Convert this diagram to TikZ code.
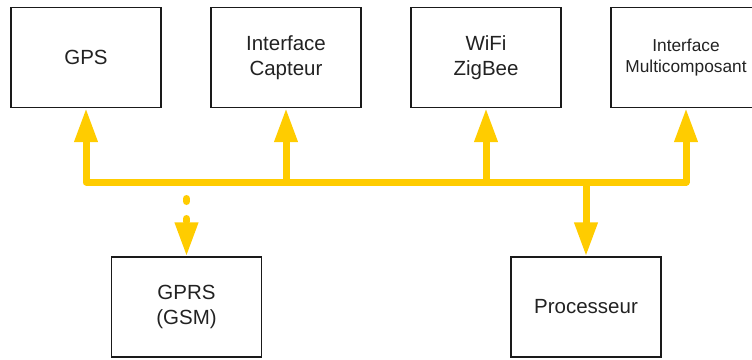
\documentclass[tikz,border=0pt]{standalone}
\usepackage{fontspec}
\setmainfont{Liberation Sans}
\usetikzlibrary{arrows.meta}
\definecolor{busyellow}{HTML}{FFCC00}
\definecolor{boxline}{HTML}{1A1A1A}
\definecolor{txt}{HTML}{222222}
\tikzset{
  blockbox/.style={draw=boxline, line width=1.4pt, minimum width=150pt, minimum height=100pt,
    align=center, text=txt, font=\fontsize{20.5}{25.5}\selectfont, inner sep=0pt},
  smalltext/.style={font=\fontsize{17.3}{21}\selectfont},
  busline/.style={draw=busyellow, line width=7pt, line join=round},
  bigtip/.style={-{Triangle[width=22pt,length=34pt]}},
  dashbus/.style={draw=busyellow, line width=7pt, line cap=round, dash pattern=on 3pt off 17pt}
}
\begin{document}
\begin{tikzpicture}[x=1pt,y=-1pt]
\useasboundingbox (0,0) rectangle (752,359);
\clip (0,0) rectangle (752,359);
\node[blockbox] (gps) at (86,57.5) {GPS};
\node[blockbox] (capt) at (286,57.5) {Interface\\Capteur};
\node[blockbox] (wifi) at (486,57.5) {WiFi\\ZigBee};
\node[blockbox,smalltext] (multi) at (686,57.5) {Interface\\Multicomposant};
\node[blockbox] (gprs) at (186.5,307) {GPRS\\(GSM)};
\node[blockbox] (proc) at (586,307) {Processeur};
\coordinate (bus) at (0,182);
\coordinate (dstart) at (186.5,198.5);
% main bus with end arrows
\draw[busline,{Triangle[width=22pt,length=34pt]}-{Triangle[width=22pt,length=34pt]}]
  (gps.south) -- (gps.south |- bus) -- (multi.south |- bus) -- (multi.south);
\draw[busline,bigtip] (capt.south |- bus) -- (capt.south);
\draw[busline,bigtip] (wifi.south |- bus) -- (wifi.south);
\draw[busline,bigtip] (proc.north |- bus) -- (proc.north);
\draw[dashbus,bigtip] (dstart) -- (gprs.north);
\end{tikzpicture}
\end{document}
